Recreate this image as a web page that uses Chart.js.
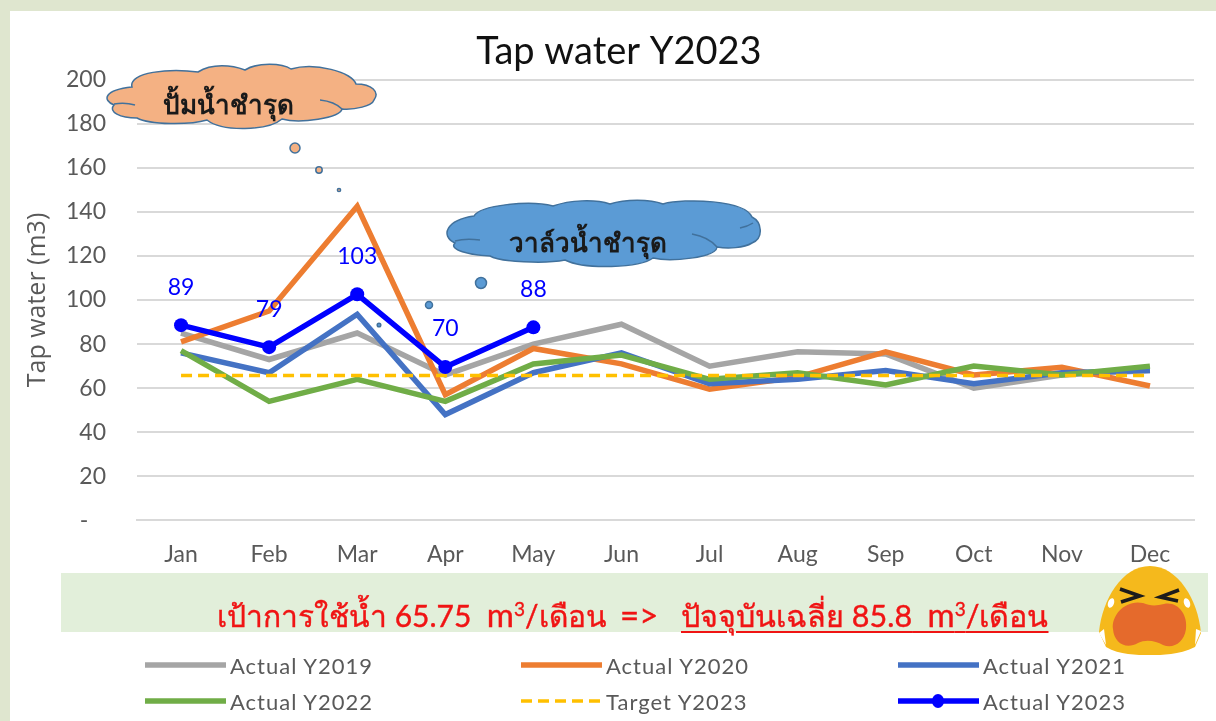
<!DOCTYPE html>
<html lang="th">

<head>
  <meta charset="UTF-8">
  <title>Tap water Y2023</title>
  <style>
    html, body { margin: 0; padding: 0; }
    body { width: 1216px; height: 721px; background: #dfe6cf; overflow: hidden; position: relative; font-family: Lato, "Noto Sans", sans-serif; }
    #sheet { position: absolute; left: 10px; top: 11px; width: 1206px; height: 710px; background: #fff; }
    #chartBox { position: absolute; left: 0; top: 0; width: 1216px; height: 721px; }
    #banner { position: absolute; left: 61px; top: 573px; width: 1147px; height: 59px; background: #e2efda; }
    .bannerText { position: absolute; top: 590px; font-size: 30px; -webkit-text-stroke: 0.4px #f01414; line-height: 48px; color: #f01414; white-space: pre; }
    .bannerText u { text-decoration-thickness: 2px; text-underline-offset: 4px; }
    .bannerText sup { font-size: 19px; line-height: 0; }
    .bannerText .m { word-spacing: 7px; font-size: 33px; }
    .cloud { position: absolute; }
    .cloudText { position: absolute; font-size: 26px; font-weight: bold; color: #1a1a1a; white-space: nowrap; }
    .legendItem { position: absolute; font-size: 22px; letter-spacing: 1px; color: #595959; white-space: nowrap; display: flex; align-items: center; height: 30px; }
    .legendItem svg { margin-right: 4px; }
    svg { display: block; }
  </style>
</head>

<body>
  <div id="sheet"></div>
  <div id="banner"></div>
  <div id="chartBox"><canvas id="myChart" width="1216" height="721"></canvas></div>

  <svg class="cloud" style="left:0;top:0" width="1216" height="721">
    <g stroke="#41719c" stroke-width="1.5">
      <g fill="#f4b183">
        <path d="M132 87 C128 72 170 68 198 72 C212 63 232 65 245 70 C258 62 282 63 291 69 C315 62 352 72 356 84 C372 84 380 92 374 100 C372 106 355 110 342 109 C340 118 300 124 282 119 C268 131 222 132 207 120 C190 125 150 125 137 118 C120 118 108 112 114 105 C102 100 104 90 132 87 Z"/>
        <path d="M114 104 C120 103 128 103 135 105 M320 100 C330 101 338 105 342 109" fill="none"/>
        <circle cx="295" cy="148" r="5"/>
        <circle cx="319" cy="170" r="3.2"/>
        <circle cx="339" cy="190" r="1.6"/>
      </g>
      <g fill="#5b9bd5">
        <path d="M474 216 C480 205 530 200 553 206 C570 200 595 199 610 204 C625 199 650 199 663 204 C685 198 745 200 752 217 C762 222 764 238 752 243 C744 248 728 249 717 247 C716 258 670 262 653 258 C640 268 585 270 565 260 C545 264 500 262 490 256 C470 255 448 250 455 243 C440 236 446 220 474 216 Z"/>
        <path d="M455 241 C462 239 472 239 480 240 M692 234 C703 236 712 241 717 247 M740 228 C745 227 750 225 753 223" fill="none"/>
        <circle cx="481" cy="283" r="5.5"/>
        <circle cx="429" cy="305" r="3.5"/>
        <circle cx="379" cy="325" r="1.8"/>
      </g>
    </g>
  </svg>
  <div class="cloudText" style="left:163px;top:84px">ปั้มน้ำชำรุด</div>
  <div class="cloudText" style="left:509px;top:222px">วาล์วน้ำชำรุด</div>

  <div class="bannerText" style="left:217px">เป้าการใช้น้ำ 65.75<span class="m"> m</span><sup>3</sup>/เดือน</div>
  <div class="bannerText" style="left:620px;font-size:33px">=&gt;</div>
  <div class="bannerText" style="left:681px;font-size:30.5px"><u>ปัจจุบันเฉลี่ย 85.8<span class="m"> m</span><sup>3</sup>/เดือน</u></div>

  <svg class="cloud" style="left:1098px;top:565px" width="106" height="91" viewBox="0 0 106 91">
    <path d="M52 1 C80 1 100 35 103 68 L97 82 C80 90 65 90 52 90 C38 90 22 90 8 82 L1 67 C4 35 24 1 52 1 Z" fill="#f5b91c"/>
    <path d="M45 38 C52 41 58 41 66 39 C80 36 90 50 88 64 C86 78 75 84 65 80 C58 76 48 74 40 78 C28 85 16 78 15 64 C13 50 28 34 45 38 Z" fill="#e56a2c"/>
    <path d="M22 24 L42 31 L23 37 M81 25 L62 32 L80 36" fill="none" stroke="#1c1c1c" stroke-width="3.5"/>
    <ellipse cx="13" cy="38" rx="3" ry="5" fill="#fff" transform="rotate(20 13 38)"/>
    <ellipse cx="89" cy="38" rx="3" ry="5" fill="#fff" transform="rotate(-20 89 38)"/>
    <path d="M1 68 L6 64 L8 80 Z M103 66 L98 64 L97 80 Z" fill="#fff"/>
  </svg>

  <div id="legendBox"></div>

  <script src="https://cdn.jsdelivr.net/npm/chart.js"></script>
  <script>
    const months = ['Jan', 'Feb', 'Mar', 'Apr', 'May', 'Jun', 'Jul', 'Aug', 'Sep', 'Oct', 'Nov', 'Dec'];
    const actual2019 = [85, 73, 85, 66, 80, 89, 70, 76.5, 75.5, 60, 66, 68];
    const actual2020 = [81, 95, 142.5, 57, 78, 71, 59.5, 65, 76.5, 66, 69.5, 61];
    const actual2021 = [76, 67, 93.5, 48, 67, 76, 62, 64, 68, 62, 67, 68];
    const actual2022 = [77, 54, 64, 54, 71, 75, 64, 67, 61.5, 70, 66, 70];
    const target2023 = [65.75, 65.75, 65.75, 65.75, 65.75, 65.75, 65.75, 65.75, 65.75, 65.75, 65.75, 65.75];
    const actual2023 = [88.6, 78.6, 102.6, 69.6, 87.6];

    // value labels above the Y2023 line
    const pointLabels = {
      id: 'pointLabels',
      afterDatasetsDraw(chart) {
        const c = chart.ctx;
        const meta = chart.getDatasetMeta(5);
        c.save();
        c.font = '23px Lato';
        c.fillStyle = '#0000ff';
        c.textAlign = 'center';
        c.textBaseline = 'middle';
        meta.data.forEach(function (p, i) {
          c.fillText(Math.round(actual2023[i]), p.x, p.y - 38);
        });
        c.restore();
      }
    };

    // the title sits a little right of the page centre
    const titleShift = {
      id: 'titleShift',
      afterLayout(chart) {
        chart.titleBlock.left += 24;
      }
    };

    const ctx = document.getElementById('myChart');
    const obj = new Chart(ctx, {
      type: 'line',
      data: {
        labels: months,
        datasets: [
          { label: 'Actual Y2019', data: actual2019, order: 5, borderColor: '#a5a5a5', borderWidth: 5.5, pointRadius: 0, tension: 0 },
          { label: 'Actual Y2020', data: actual2020, order: 4, borderColor: '#ed7d31', borderWidth: 5.5, pointRadius: 0, tension: 0 },
          { label: 'Actual Y2021', data: actual2021, order: 3, borderColor: '#4472c4', borderWidth: 5.5, pointRadius: 0, tension: 0 },
          { label: 'Actual Y2022', data: actual2022, order: 2, borderColor: '#70ad47', borderWidth: 5.5, pointRadius: 0, tension: 0 },
          { label: 'Target Y2023', data: target2023, order: 1, borderColor: '#ffc000', borderWidth: 3.5, borderDash: [11, 6], pointRadius: 0, tension: 0 },
          { label: 'Actual Y2023', data: actual2023, order: 0, borderColor: '#0000ff', backgroundColor: '#0000ff', borderWidth: 5.5, pointRadius: 7, pointBorderWidth: 0, tension: 0 }
        ]
      },
      options: {
        responsive: false,
        animation: false,
        layout: { padding: { left: 20, right: 22, top: 29, bottom: 141 } },
        plugins: {
          legend: { display: false },
          tooltip: { enabled: false },
          title: { display: true, text: 'Tap water Y2023', color: '#111', font: { family: 'Lato', size: 38, weight: 'normal' }, padding: { top: 0, bottom: 5 } }
        },
        scales: {
          x: {
            offset: true,
            grid: { display: false },
            border: { color: '#d9d9d9', width: 2 },
            ticks: { color: '#595959', padding: 12, font: { family: 'Lato', size: 23 } }
          },
          y: {
            min: 0,
            max: 200,
            afterFit(scale) { scale.width = 117; },
            grid: { color: '#d9d9d9', lineWidth: 2, drawTicks: false },
            border: { display: false },
            ticks: {
              stepSize: 20,
              color: '#595959',
              padding: 31,
              font: { family: 'Lato', size: 23 },
              callback: function (v) { return v === 0 ? '-   ' : v; }
            },
            title: { display: true, text: 'Tap water (m3)', color: '#595959', font: { family: 'Open Sans', size: 25 }, padding: 3 }
          }
        }
      },
      plugins: [pointLabels, titleShift]
    });

    // three column legend under the banner
    const legendX = [145, 521, 898];
    const legendY = [650, 686];
    const legendBox = document.getElementById('legendBox');
    obj.data.datasets.forEach(function (ds, i) {
      const item = document.createElement('div');
      item.className = 'legendItem';
      item.style.left = legendX[i % 3] + 'px';
      item.style.top = legendY[Math.floor(i / 3)] + 'px';
      const dash = ds.borderDash ? 'stroke-dasharray="11 6"' : '';
      const dot = ds.pointRadius ? '<ellipse cx="40" cy="8" rx="6" ry="7" fill="' + ds.borderColor + '"/>' : '';
      item.innerHTML = '<svg width="81" height="16"><line x1="0" x2="81" y1="8" y2="8" stroke="' + ds.borderColor + '" stroke-width="' + ds.borderWidth + '" ' + dash + '/>' + dot + '</svg>' + ds.label;
      legendBox.appendChild(item);
    });
  </script>
</body>

</html>
